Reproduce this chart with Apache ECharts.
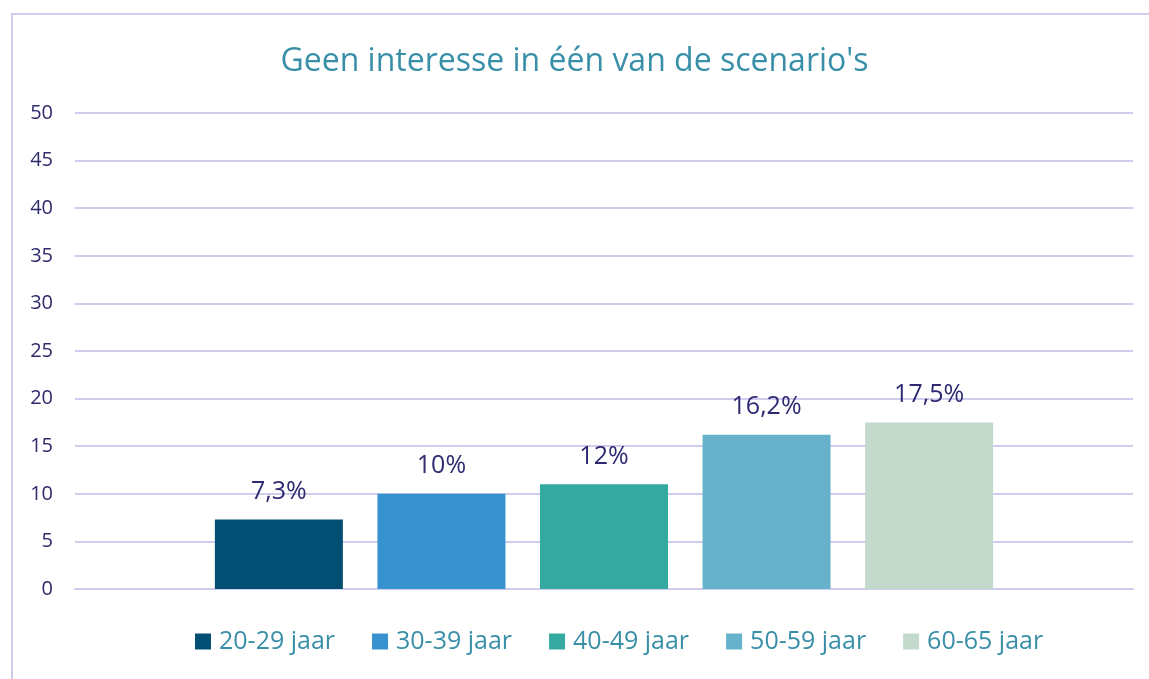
<!DOCTYPE html>
<html>
<head>
<meta charset="utf-8">
<script src="https://cdn.jsdelivr.net/npm/echarts@6/dist/echarts.min.js"></script>
<style>
  html, body { margin: 0; padding: 0; background: #fff; }
  #chart { width: 1149px; height: 679px; }
</style>
</head>
<body>
<div id="chart"></div>
<script>
// data
var categories = ['Geen interesse'];
var groups = ['20-29 jaar', '30-39 jaar', '40-49 jaar', '50-59 jaar', '60-65 jaar'];
var values = [7.3, 10, 11, 16.2, 17.5];
var labels = ['7,3%', '10%', '12%', '16,2%', '17,5%'];
var colors = ['#034F73', '#3892D0', '#34AAA0', '#66B2CB', '#C2D9CC'];

var font = '"Open Sans", "Noto Sans", sans-serif';

var series = groups.map(function (g, i) {
  return {
    name: g,
    type: 'bar',
    barWidth: 128,
    barGap: '27%',
    itemStyle: { color: colors[i] },
    label: {
      show: true,
      position: 'top',
      distance: 15,
      formatter: labels[i],
      color: '#2E2A72',
      fontFamily: font,
      fontSize: 25
    },
    data: [values[i]]
  };
});

var chart = {
  animation: false,
  title: {
    text: "Geen interesse in één van de scenario's",
    left: 'center',
    top: 41,
    textStyle: { color: '#3A8FA8', fontFamily: font, fontSize: 32, fontWeight: 'normal' }
  },
  legend: {
    bottom: 20,
    left: 190,
    itemWidth: 16,
    itemHeight: 16,
    itemGap: 37,
    icon: 'rect',
    textStyle: { color: '#3A8FA8', fontFamily: font, fontSize: 25, padding: [0, 0, 0, 3] }
  },
  grid: { left: 75, right: 16, top: 113, bottom: 90 },
  xAxis: {
    type: 'category',
    data: categories,
    axisLine: { show: true, lineStyle: { color: '#D0CCEE', width: 2 } },
    axisTick: { show: false },
    axisLabel: { show: false }
  },
  yAxis: {
    type: 'value',
    min: 0,
    max: 50,
    interval: 5,
    axisLine: { show: false },
    axisTick: { show: false },
    axisLabel: { color: '#2E2A6B', fontFamily: font, fontSize: 20, margin: 22 },
    splitLine: { lineStyle: { color: '#D0CCEE', width: 2 } }
  },
  graphic: [{
    type: 'rect',
    shape: { x: 12, y: 14, width: 1160, height: 700 },
    style: { fill: 'none', stroke: '#D0CCEE', lineWidth: 2 },
    silent: true
  }],
  series: series
};

echarts.init(document.getElementById('chart')).setOption(chart);
</script>
</body>
</html>
